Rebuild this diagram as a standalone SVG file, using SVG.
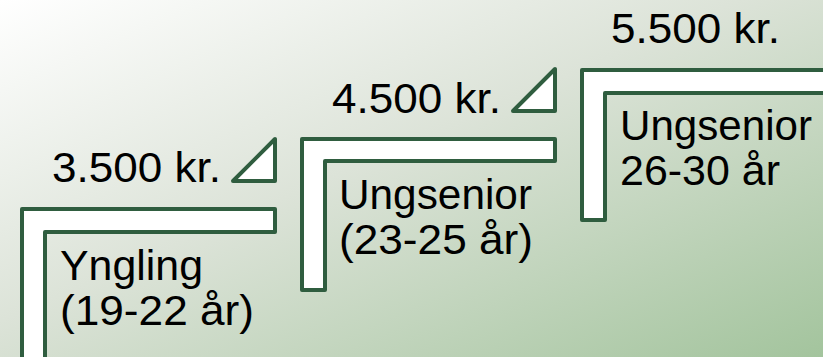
<svg xmlns="http://www.w3.org/2000/svg" width="823" height="357" viewBox="0 0 823 357">
  <defs>
    <linearGradient id="bg" x1="0" y1="0" x2="1" y2="1">
      <stop offset="0" stop-color="#ffffff"/>
      <stop offset="0.45" stop-color="#dce3d8"/>
      <stop offset="1" stop-color="#a3c49d"/>
    </linearGradient>
  </defs>
  <style>
    .step { fill: #ffffff; stroke: #2f5d3f; stroke-width: 4; stroke-linejoin: round; }
    .tri { fill: #ffffff; stroke: #2f5d3f; stroke-width: 4; stroke-linejoin: round; }
    text { font-family: "Liberation Sans", Arial, sans-serif; font-size: 42px; fill: #000000; }
  </style>
  <rect x="0" y="0" width="823" height="357" fill="url(#bg)"/>
  <g id="step1">
    <polygon class="step" points="22,209 275,209 275,232 45,232 45,362 22,362"/>
    <text x="60" y="280" textLength="143" lengthAdjust="spacingAndGlyphs">Yngling</text>
    <text x="60" y="325" textLength="194" lengthAdjust="spacingAndGlyphs">(19-22 år)</text>
  </g>
  <g id="price1">
    <polygon class="tri" points="275,139 275,181 233,181"/>
    <text x="52" y="182" textLength="169" lengthAdjust="spacingAndGlyphs">3.500 kr.</text>
  </g>
  <g id="step2">
    <polygon class="step" points="302,139 555,139 555,161 325,161 325,290 302,290"/>
    <text x="339" y="209" textLength="193" lengthAdjust="spacingAndGlyphs">Ungsenior</text>
    <text x="339" y="254" textLength="194" lengthAdjust="spacingAndGlyphs">(23-25 år)</text>
  </g>
  <g id="price2">
    <polygon class="tri" points="555,69 555,111 513,111"/>
    <text x="332" y="113" textLength="169" lengthAdjust="spacingAndGlyphs">4.500 kr.</text>
  </g>
  <g id="step3">
    <polygon class="step" points="582,70 830,70 830,93 605,93 605,220 582,220"/>
    <text x="620" y="140" textLength="192" lengthAdjust="spacingAndGlyphs">Ungsenior</text>
    <text x="620" y="185" textLength="160" lengthAdjust="spacingAndGlyphs">26-30 år</text>
  </g>
  <g id="price3">
    <text x="611" y="43" textLength="169" lengthAdjust="spacingAndGlyphs">5.500 kr.</text>
  </g>
  <g id="connectors"/>
</svg>
